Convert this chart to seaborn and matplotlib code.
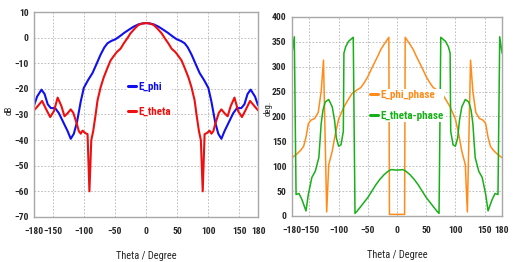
import numpy as np
import pandas as pd
import matplotlib
matplotlib.use("Agg")
import matplotlib.pyplot as plt
import seaborn as sns
from matplotlib import font_manager

# ---- data ----
# left panel: far-field amplitude (dB)
theta_phi = [-180, -175, -168, -163, -158, -153, -146, -140, -133, -126, -121, -116, -111, -105,
             -100, -93, -86, -80, -73, -67, -62, -56, -49, -42, -35, -27, -20, -12, -5, 0,
             5, 12, 20, 27, 35, 42, 49, 56, 62, 67, 73, 80, 86, 93, 100,
             105, 111, 116, 121, 126, 133, 140, 146, 153, 158, 163, 168, 175, 180]
e_phi = [-26.5, -23, -20.3, -22, -26, -27.5, -27.5, -29.5, -33, -36.5, -39.5, -37.5, -33, -25,
         -19.6, -16.5, -13.8, -10.5, -6.6, -3.8, -2.2, -1.3, -0.6, 0.6, 1.9, 3.2, 4.3, 5.2, 5.6, 5.7,
         5.6, 5.2, 4.3, 3.2, 1.9, 0.6, -0.6, -1.3, -2.2, -3.8, -6.6, -10.5, -13.8, -16.5, -19.6,
         -25, -33, -37.5, -39.5, -36.5, -33, -29.5, -27.5, -27.5, -26, -22, -20.3, -23, -26.5]

theta_th = [-180, -175, -167, -160, -154, -148, -142, -136, -131, -126, -121, -117, -112, -108,
            -105, -102, -98, -94, -91, -88, -85, -81, -78, -73, -68, -62, -57, -52, -47, -41,
            -36, -30, -25, -18, -12, -6, 0,
            6, 12, 18, 25, 30, 36, 41, 47, 52, 57, 62, 68, 73, 78, 81, 85, 88, 91, 94, 98,
            102, 105, 108, 112, 117, 121, 126, 131, 136, 142, 148, 154, 160, 167, 175, 180]
e_theta = [-28.4, -27, -24.7, -28.2, -31, -28.7, -23.4, -26.7, -30.7, -29.5, -28, -29.3, -33, -36.5,
           -37.5, -36.3, -37.2, -37.7, -60, -40, -36.6, -30, -24.5, -19.4, -15.5, -11.8, -8.9, -7.2, -5.6, -4.3,
           -2.3, -0.2, 1.7, 3.6, 5.0, 5.5, 5.7,
           5.5, 5.0, 3.6, 1.7, -0.2, -2.3, -4.3, -5.6, -7.2, -8.9, -11.8, -15.5, -19.4, -24.5, -30, -36.6, -40, -60, -37.7, -37.2,
           -36.3, -37.5, -36.5, -33, -29.3, -28, -29.5, -30.7, -26.7, -23.4, -28.7, -31, -28.2, -24.7, -27, -28.4]

# right panel: phase (deg)
theta_pphi = [-180, -172, -165, -160, -156, -152, -148, -141, -135, -130, -126, -120.5, -117, -111,
              -106, -100, -91, -84, -77, -70, -62, -56, -50, -44, -39, -33, -28, -21, -14, -13,
              -6, 0, 6, 13, 14, 21, 28, 33, 39, 44, 50, 56, 62, 70, 77, 84, 91, 100, 106, 111,
              117, 120.5, 126, 130, 135, 141, 148, 152, 156, 160, 165, 172, 180]
phase_phi = [117, 124, 132, 140, 158, 185, 192, 196, 208, 250, 313, 8, 103, 130,
             163, 195, 219, 233, 246, 252, 258, 268, 280, 295, 307, 321, 334, 347, 359, 3,
             3, 3, 3, 3, 359, 347, 334, 321, 307, 295, 280, 268, 258, 252, 246, 233, 219, 195, 163, 130,
             103, 8, 313, 250, 208, 196, 192, 185, 158, 140, 132, 124, 117]

theta_pth = [-180, -176, -173, -168, -163, -156, -152, -146, -140, -134, -132, -130, -127, -123,
             -117, -111, -107, -104, -100, -96, -92, -91, -88, -83, -75, -72, -68, -60, -50, -43,
             -36, -29, -22, -15, -10, 0, 10, 15, 22, 29, 36, 43, 50, 60, 68, 72, 75, 83, 88, 91,
             92, 96, 100, 104, 107, 111, 117, 123, 127, 130, 132, 134, 140, 146, 152, 156, 163,
             168, 173, 176, 180]
phase_theta = [327, 360, 43, 45, 33, 10, 43, 77, 90, 117, 150, 185, 212, 229,
               234, 219, 192, 157, 140, 143, 170, 327, 340, 351, 359, 5, 10, 22, 37, 50,
               63, 74, 83, 90, 93, 92, 93, 90, 83, 74, 63, 50, 37, 22, 10, 5, 359, 351, 340, 327,
               170, 143, 140, 157, 192, 219, 234, 229, 212, 185, 150, 117, 90, 77, 43, 10, 33,
               45, 43, 360, 327]

amp = pd.concat([
    pd.DataFrame({"theta": theta_phi, "val": e_phi, "series": "E_phi"}),
    pd.DataFrame({"theta": theta_th, "val": e_theta, "series": "E_theta"}),
])
phs = pd.concat([
    pd.DataFrame({"theta": theta_pphi, "val": phase_phi, "series": "E_phi_phase"}),
    pd.DataFrame({"theta": theta_pth, "val": phase_theta, "series": "E_theta-phase"}),
])

sns.set_style("white")
names = {f.name for f in font_manager.fontManager.ttflist}
fam, fs = "Liberation Sans", 6.3
for cand in ["Liberation Sans Narrow", "Roboto Condensed", "Open Sans Condensed", "Arial Narrow"]:
    if cand in names:
        fam, fs = cand, 7
        break
plt.rcParams["font.family"] = [fam, "DejaVu Sans"]
plt.rcParams["font.weight"] = "bold"

fig = plt.figure(figsize=(5.2, 2.62), dpi=100)
ax1 = fig.add_axes([0.0654, 0.172, 0.431, 0.782])
ax2 = fig.add_axes([0.5615, 0.176, 0.404, 0.7595])

sns.lineplot(data=amp, x="theta", y="val", hue="series", sort=False, estimator=None,
             palette={"E_phi": "#1010ee", "E_theta": "#ee1010"}, linewidth=1.5, ax=ax1)
sns.lineplot(data=phs, x="theta", y="val", hue="series", sort=False, estimator=None,
             palette={"E_phi_phase": "#ff8c1a", "E_theta-phase": "#18b018"}, linewidth=1.1, ax=ax2)

ax1.set_ylim(-70, 10)
ax1.set_yticks(range(-70, 11, 10))
ax2.set_ylim(0, 400)
ax2.set_yticks(range(0, 401, 50))
ax1.set_ylabel("dB", fontsize=fs - 0.5)
ax2.set_ylabel("deg.", fontsize=fs - 0.5)
ax1.yaxis.set_label_coords(-0.09, 0.52)
ax2.yaxis.set_label_coords(-0.09, 0.54)

for ax in (ax1, ax2):
    ax.set_xlim(-180, 180)
    ax.set_xticks([-180, -150, -100, -50, 0, 50, 100, 150, 180])
    ax.set_xlabel("Theta / Degree", fontsize=fs + 0.5, labelpad=11)
    ax.tick_params(labelsize=fs - 0.2, length=0, pad=4)
    ax.tick_params(axis="x", pad=7)
    ax.grid(True, color="#b4b4b4", linestyle=(0, (2, 2)), linewidth=0.6)
    for s in ax.spines.values():
        s.set_color("#a8a8a8")
        s.set_linewidth(1.0)

leg1 = ax1.legend(loc="upper left", bbox_to_anchor=(0.39, 0.69), frameon=True, fontsize=fs + 1,
                  handlelength=0.7, handletextpad=0.2, labelspacing=1.3, borderpad=0.1)
leg2 = ax2.legend(loc="upper left", bbox_to_anchor=(0.34, 0.665), frameon=True, fontsize=fs + 1,
                  handlelength=0.7, handletextpad=0.2, labelspacing=0.95, borderpad=0.1)
for leg in (leg1, leg2):
    leg.get_frame().set_edgecolor("none")
    leg.get_frame().set_facecolor("white")
    leg.get_frame().set_alpha(1)
    for line, txt in zip(leg.get_lines(), leg.get_texts()):
        line.set_linewidth(2.2)
        txt.set_color(line.get_color())

fig.savefig("out.png", dpi=100)
